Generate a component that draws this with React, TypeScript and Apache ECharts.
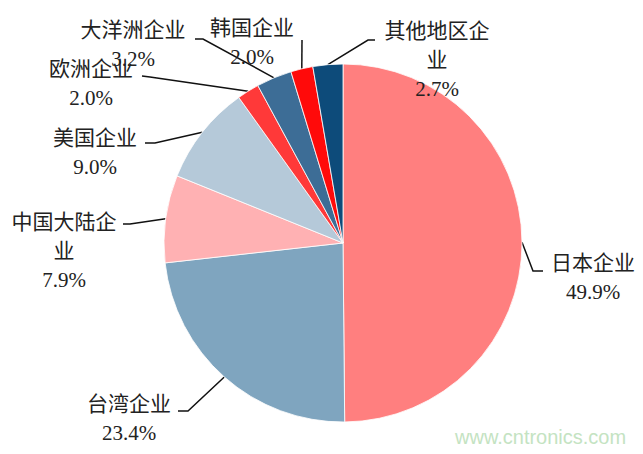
import React, { useEffect, useRef } from "react";
import * as echarts from "echarts";

const categories = ["日本企业", "台湾企业", "中国大陆企业", "美国企业", "欧洲企业", "大洋洲企业", "韩国企业", "其他地区企业"];
const shares = [49.9, 23.4, 7.9, 9.0, 2.0, 3.2, 2.0, 2.7];
const colors = ["#FF7F7F", "#7FA5BF", "#FFB1B3", "#B5C9D9", "#FF3939", "#3D6D96", "#FF0A0A", "#0D4B7A"];

// label layout: [centerX, firstLineTop, bendX, bendY, endX, endY]
const labelSpots: number[][] = [
  [593, 248, 533, 271, 543, 271],
  [129, 389, 188, 411, 178, 411],
  [64, 207, 130, 224, 123, 224],
  [95, 123, 155, 143, 145, 143],
  [91, 54, 150, 77, 142, 76],
  [133, 15, 203, 39, 195, 39],
  [252, 13, 302, 40, 302, 40],
  [437, 16, 368, 40, 375, 40],
];

const FONT = "'Liberation Serif', 'Noto Sans CJK SC', serif";

export default function App() {
  const ref = useRef<HTMLDivElement>(null);
  useEffect(() => {
    if (!ref.current) return;
    const chart = echarts.init(ref.current, null, { renderer: "svg" });
    chart.setOption({
      animation: false,
      backgroundColor: "#ffffff",
      graphic: [
        {
          type: "text",
          left: 455,
          top: 427,
          style: {
            text: "www.cntronics.com",
            fill: "#C4E3C2",
            font: "20px 'Liberation Sans', Arial, sans-serif",
          },
        },
      ],
      series: [
        {
          type: "pie",
          center: [343, 243],
          radius: 179,
          startAngle: 90,
          clockwise: true,
          avoidLabelOverlap: false,
          itemStyle: { borderColor: "#ffffff", borderWidth: 0.8 },
          data: categories.map((n, i) => ({ name: n, value: shares[i], itemStyle: { color: colors[i] } })),
          label: {
            show: true,
            position: "outside",
            align: "center",
            fontFamily: FONT,
            fontSize: 21,
            color: "#222222",
            lineHeight: 29,
            formatter: (p: any) => {
              const name: string = p.name;
              const shown = name.length > 5 ? name.slice(0, 5) + "\n" + name.slice(5) : name;
              return shown + "\n" + Number(p.value).toFixed(1) + "%";
            },
          },
          labelLine: {
            show: true,
            lineStyle: { color: "#111111", width: 1.5 },
          },
          labelLayout: (params: any) => {
            const s = labelSpots[params.dataIndex];
            const p0 = params.labelLinePoints ? params.labelLinePoints[0] : [s[2], s[3]];
            return {
              x: s[0],
              y: s[1],
              align: "center",
              verticalAlign: "top",
              labelLinePoints: [p0, [s[2], s[3]], [s[4], s[5]]],
            };
          },
        },
      ],
    });
    return () => chart.dispose();
  }, []);
  return <div ref={ref} style={{ position: "fixed", left: 0, top: 0, width: 643, height: 454 }} />;
}
